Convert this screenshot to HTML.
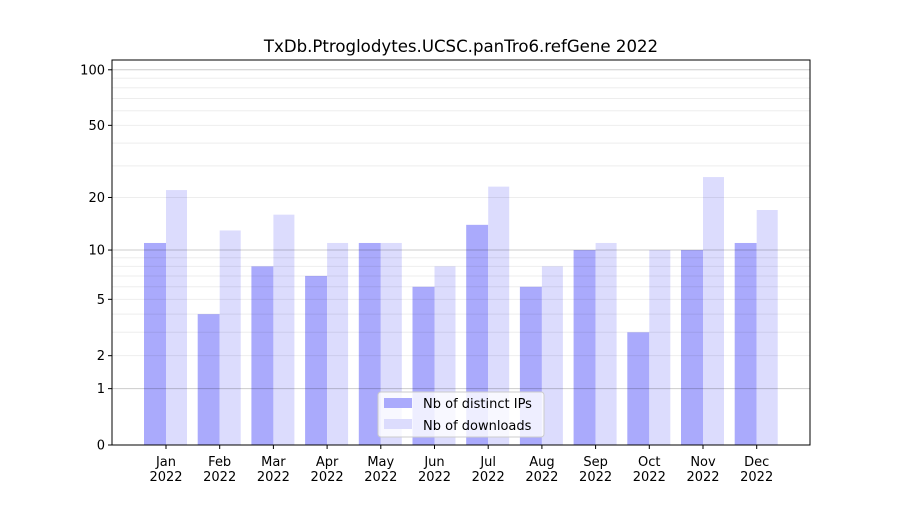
<!DOCTYPE html>
<html><head><meta charset="utf-8"><style>
body{margin:0;background:#fff;font-family:"Liberation Sans",sans-serif}
svg text{font-family:"DejaVu Sans","Liberation Sans",sans-serif}
</style></head><body>
<svg width="900" height="500" xmlns="http://www.w3.org/2000/svg">
<g id="bars"></g>
<g id="grid"></g>
<g id="axes"></g>
</svg>
<script>
const months=["Jan","Feb","Mar","Apr","May","Jun","Jul","Aug","Sep","Oct","Nov","Dec"];
const ips=[11,4,8,7,11,6,14,6,10,3,10,11];
const downloads=[22,13,16,11,11,8,23,8,11,10,26,17];
const yTicks=[0,1,2,5,10,20,50,100];
const title="TxDb.Ptroglodytes.UCSC.panTro6.refGene 2022";
const NS="http://www.w3.org/2000/svg";
const L=112,R=810,T=60,B=445,PX=187.2;
const y=v=>B-Math.log10(v+1)*PX;
const x0=166,step=53.7;
const x=i=>x0+i*step;
function mk(tag,attrs,parent,txt){const e=document.createElementNS(NS,tag);for(const k in attrs)e.setAttribute(k,attrs[k]);if(txt!==undefined)e.textContent=txt;parent.appendChild(e);return e;}
const bars=document.getElementById('bars'),grid=document.getElementById('grid'),axes=document.getElementById('axes');
months.forEach((m,i)=>{
 let r=mk('rect',{x:x(i)-22,y:y(ips[i]),width:22,height:B-y(ips[i]),fill:'#aaaafc'},bars);
 
 
 let r2=mk('rect',{x:x(i),y:y(downloads[i]),width:21,height:B-y(downloads[i]),fill:'#dcdcfd'},bars);
 
 
});
const minors=[2,3,4,5,6,7,8,9,20,30,40,50,60,70,80,90];
minors.forEach(v=>{const l=mk('line',{x1:L,x2:R,y1:y(v),y2:y(v),stroke:'#000','stroke-opacity':0.07,'stroke-width':1},grid);
 });
[1,10,100].forEach(v=>{const l=mk('line',{x1:L,x2:R,y1:y(v),y2:y(v),stroke:'#000','stroke-opacity':0.2,'stroke-width':1},grid);
 });
const frame=mk('rect',{x:L,y:T,width:R-L,height:B-T,fill:'none',stroke:'#000','stroke-width':1},axes);

yTicks.forEach(v=>{mk('line',{x1:L-4,x2:L,y1:y(v),y2:y(v),stroke:'#000'},axes);
 const t=mk('text',{x:L-7,y:y(v)+4.5,'text-anchor':'end','font-size':13},axes,String(v));
 });
months.forEach((m,i)=>{mk('line',{x1:x(i),x2:x(i),y1:B,y2:B+4,stroke:'#000'},axes);
 const t=mk('text',{x:x(i),y:466,'text-anchor':'middle','font-size':13},axes);
 
 mk('tspan',{x:x(i)},t,m);mk('tspan',{x:x(i),dy:15},t,'2022');});
const tt=mk('text',{x:461,y:52,'text-anchor':'middle','font-size':16.6},axes,title);

const lg=mk('g',{},axes);
mk('rect',{x:378,y:392,width:166,height:45,rx:3,fill:'#fff','fill-opacity':0.8,stroke:'#ccc'},lg);
mk('rect',{x:384,y:398,width:28,height:10,fill:'#aaaafc'},lg);
mk('rect',{x:384,y:419,width:28,height:10,fill:'#dcdcfd'},lg);
mk('text',{x:423,y:408,'font-size':13},lg,'Nb of distinct IPs');
mk('text',{x:423,y:430,'font-size':13},lg,'Nb of downloads');
</script>
</body></html>
